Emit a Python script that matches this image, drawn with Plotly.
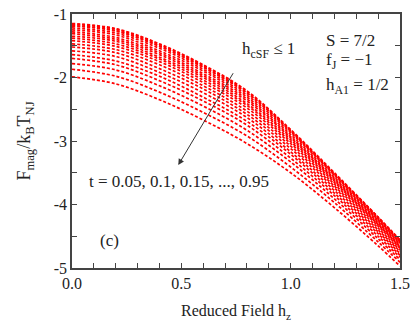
import plotly.graph_objects as go

# reduced field h_z sample points
h_z = [0.0, 0.2, 0.4, 0.6, 0.8, 1.0, 1.2, 1.4, 1.5]

# temperatures t
t_vals = [0.05, 0.10, 0.15, 0.20, 0.25, 0.30, 0.35, 0.40, 0.45, 0.50,
          0.55, 0.60, 0.65, 0.70, 0.75, 0.80, 0.85, 0.90, 0.95]

# F_mag / k_B T_NJ, one row per t
f_mag = [
    [-1.15, -1.23, -1.47, -1.80, -2.21, -2.82, -3.50, -4.20, -4.56],
    [-1.16, -1.24, -1.48, -1.81, -2.22, -2.83, -3.51, -4.20, -4.56],
    [-1.18, -1.26, -1.50, -1.83, -2.24, -2.84, -3.52, -4.21, -4.57],
    [-1.19, -1.27, -1.51, -1.84, -2.25, -2.85, -3.53, -4.22, -4.58],
    [-1.22, -1.30, -1.54, -1.87, -2.28, -2.87, -3.54, -4.24, -4.59],
    [-1.25, -1.33, -1.58, -1.90, -2.31, -2.90, -3.57, -4.25, -4.61],
    [-1.28, -1.37, -1.61, -1.94, -2.34, -2.93, -3.59, -4.27, -4.62],
    [-1.31, -1.40, -1.64, -1.97, -2.37, -2.95, -3.61, -4.29, -4.64],
    [-1.35, -1.43, -1.68, -2.00, -2.41, -2.98, -3.63, -4.31, -4.66],
    [-1.38, -1.47, -1.71, -2.04, -2.44, -3.01, -3.65, -4.32, -4.67],
    [-1.42, -1.51, -1.75, -2.08, -2.48, -3.04, -3.68, -4.34, -4.69],
    [-1.47, -1.56, -1.80, -2.13, -2.53, -3.08, -3.71, -4.37, -4.72],
    [-1.52, -1.61, -1.86, -2.18, -2.58, -3.12, -3.74, -4.40, -4.74],
    [-1.58, -1.67, -1.92, -2.24, -2.63, -3.17, -3.78, -4.43, -4.77],
    [-1.64, -1.74, -1.98, -2.31, -2.69, -3.21, -3.82, -4.46, -4.80],
    [-1.70, -1.80, -2.05, -2.37, -2.75, -3.27, -3.86, -4.50, -4.83],
    [-1.78, -1.88, -2.13, -2.45, -2.83, -3.33, -3.91, -4.54, -4.87],
    [-1.87, -1.98, -2.23, -2.55, -2.92, -3.41, -3.97, -4.59, -4.91],
    [-1.99, -2.10, -2.35, -2.67, -3.04, -3.50, -4.05, -4.65, -4.97],
]

x_ticks = [i / 10 for i in range(16)]
x_labels = ["0.0", "", "", "", "", "0.5", "", "", "", "", "1.0", "", "", "", "", "1.5"]
y_ticks = [-1, -1.5, -2, -2.5, -3, -3.5, -4, -4.5, -5]
y_labels = ["-1", "", "-2", "", "-3", "", "-4", "", "-5"]

FONT = "Liberation Serif"

fig = go.Figure()
for t, row in zip(t_vals, f_mag):
    fig.add_trace(go.Scatter(
        x=h_z, y=row, mode="lines", name=f"t = {t}",
        line=dict(color="#ff0000", width=1.7, dash="3px,2px", shape="spline"),
    ))

axis_style = dict(
    showline=True, linecolor="#444444", linewidth=1.5, mirror="ticks",
    ticks="inside", ticklen=5, tickcolor="#444444", tickwidth=1.2,
    showgrid=False, zeroline=False, automargin=False,
    tickfont=dict(family=FONT, size=16, color="#222222"),
)

fig.update_layout(
    width=415, height=330,
    margin=dict(l=72, r=15, t=14, b=62),
    paper_bgcolor="white", plot_bgcolor="white",
    showlegend=False,
    font=dict(family=FONT, color="#222222"),
    xaxis=dict(range=[0, 1.5], tickvals=x_ticks, ticktext=x_labels,
               title=dict(text="Reduced Field h<sub>z</sub>", standoff=14,
                          font=dict(family=FONT, size=16)),
               **axis_style),
    yaxis=dict(range=[-5, -1], tickvals=y_ticks, ticktext=y_labels,
               title=dict(text="F<sub>mag</sub>/k<sub>B</sub>T<sub>NJ</sub>", standoff=18,
                          font=dict(family=FONT, size=18)),
               **axis_style),
)

fig.add_annotation(x=0.486, y=-3.378, ax=0.741, ay=-1.909, xref="x", yref="y",
                   axref="x", ayref="y", text="", showarrow=True,
                   arrowhead=2, arrowsize=1.2, arrowwidth=1, arrowcolor="#333333")

notes = [
    (0.768, -1.57, "h<sub>cSF</sub> ≤ 1"),
    (1.152, -1.41, "S = 7/2"),
    (1.152, -1.74, "f<sub>J</sub> = −1"),
    (1.152, -2.14, "h<sub>A1</sub> = 1/2"),
    (0.069, -3.63, "t = 0.05, 0.1, 0.15, ..., 0.95"),
    (0.119, -4.56, "(c)"),
]
for nx, ny, txt in notes:
    fig.add_annotation(x=nx, y=ny, text=txt, showarrow=False, xanchor="left",
                       yanchor="middle", font=dict(family=FONT, size=17, color="#222222"))

# the page body has a default margin; drop it so the figure sits at 0,0
fig.write_html("out.html", config={"displayModeBar": False},
               post_script="document.body.style.margin='0';")
